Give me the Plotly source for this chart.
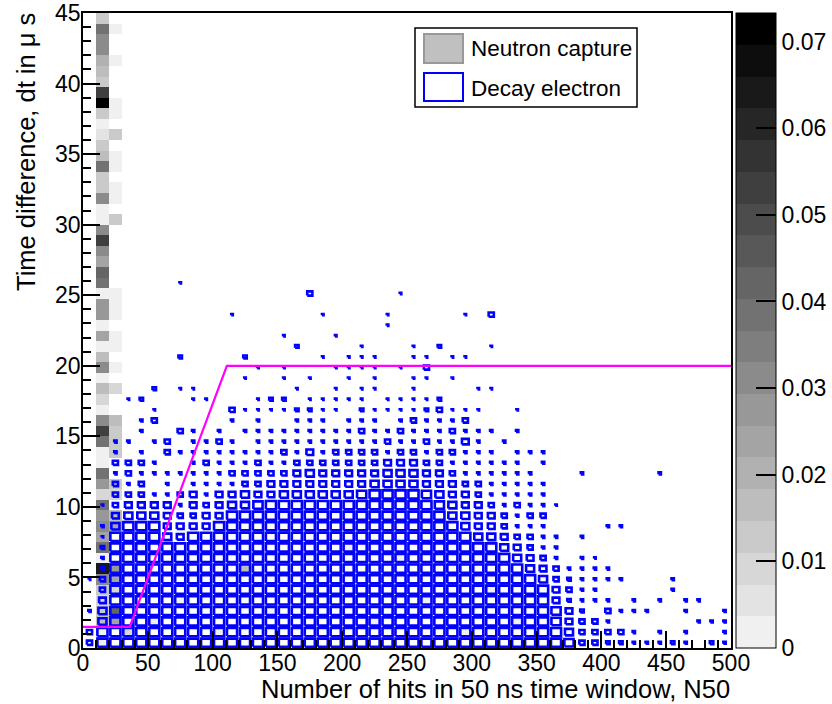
import plotly.graph_objects as go

# ---------------- data ----------------
x_edges_step = 10.0          # N50 bin width
y_edges_step = 0.75          # dt bin width (us)
n_xbins = 50
n_ybins = 60

# Decay electron: relative bin content level (0-9) per cell, rows from dt=0 upward
decay_rows = [
    "5999999999 9999999999 9999999999 9999999855 4433343043",
    "5999999999 9999999999 9999999999 9999999755 5530303003",
    "0799999999 9999999999 9999999999 9999998655 3000000333",
    "3799999999 9999999999 9999999999 9999998640 5333003003",
    "0699999999 9999999999 9999999999 9999996433 3030303300",
    "0599999999 9999999999 9999999999 9999996533 0000030000",
    "2599999999 9999999999 9999999999 9999975433 3300030000",
    "0499999999 9999999999 9999999999 9999765333 3000000000",
    "0399999999 9999999999 9999999999 9997653032 0000000000",
    "0499999999 9999999999 9999999999 9976533000 0000000000",
    "0299997699 9999999999 9999999999 7765533030 0000000000",
    "0379996666 9999999999 9999999997 6653330000 3300000000",
    "0067776556 6999999999 9999999977 6653550000 0000000000",
    "0256666365 6778999999 9999999876 6535332000 0000000000",
    "0055533563 6676677777 7899998766 5333330000 0000000000",
    "0053503033 3355666666 6677776665 5333330000 0000000000",
    "0035333333 3555556766 6667776653 3333300030 0000300000",
    "0055530035 3335335555 5556665533 3333030000 0000000000",
    "0030305333 3333353635 5553553553 3303330000 0000000000",
    "0033035033 5303333333 3335335336 3030000000 0000000000",
    "0000300530 3033333333 3533533353 3303000000 0000000000",
    "0000350000 0303003330 3330353335 0000000000 0000000000",
    "0000020000 0522224422 0422224522 2002000000 0000000000",
    "0002400022 0002440222 2202222400 0000000000 0000000000",
    "0000040220 0000002002 0220020000 2200000000 0000000000",
    "0000000000 0020020200 2020022020 0000000000 0000000000",
    "0000000000 0002020002 2220205000 0000000000 0000000000",
    "0000000400 0040000020 2220022022 0000000000 0000000000",
    "0000000000 0000004000 0200020400 0200000000 0000000000",
    "0000000000 0000020002 0000000000 0000000000 0000000000",
    "0000000000 0000000000 0002000000 0000000000 0000000000",
    "0000000000 0200000020 0002000002 0500000000 0000000000",
    "0000000000 0000000000 0000000000 0000000000 0000000000",
    "0000000000 0000000500 0000200000 0000000000 0000000000",
    "0000000200 0000000000 0000000000 0000000000 0000000000",
]
level_fraction = {1: 0.07, 2: 0.12, 3: 0.18, 4: 0.27, 5: 0.40,
                  6: 0.52, 7: 0.62, 8: 0.71, 9: 0.78}

# Neutron capture: normalised content, N50 bin 10-20 and 20-30, dt rows 0..59
neutron_col_10_20 = [
    0.002, 0.002, 0.0165, 0.0128, 0.009, 0.0128, 0.031, 0.064, 0.002, 0.0385,
    0.022, 0.031, 0.0275, 0.0385, 0.009, 0.0275, 0.0385, 0.002, 0.002, 0.0385,
    0.053, 0.031, 0.002, 0.009, 0.0165, 0.002, 0.031, 0.0165, 0.002, 0.022,
    0.002, 0.0275, 0.0275, 0.002, 0.0385, 0.042, 0.024, 0.031, 0.053, 0.031,
    0.002, 0.002, 0.031, 0.0128, 0.0128, 0.0385, 0.0165, 0.0128, 0.0055, 0.002,
    0.0128, 0.0715, 0.053, 0.0128, 0.0165, 0.020, 0.031, 0.031, 0.0385, 0.0128,
]
neutron_col_20_30 = [
    0, 0, 0.022, 0.042, 0, 0.009, 0.022, 0.0275, 0, 0,
    0, 0.022, 0.0165, 0, 0.009, 0.0128, 0, 0, 0.0128, 0.0128,
    0.0128, 0.0165, 0, 0, 0.009, 0, 0.002, 0, 0.002, 0.002,
    0, 0.002, 0.002, 0.002, 0, 0, 0, 0, 0, 0,
    0.0128, 0, 0.002, 0.002, 0, 0.002, 0.002, 0, 0.0128, 0,
    0.002, 0.002, 0, 0, 0, 0.002, 0, 0, 0.002, 0,
]
# other (x bin, y bin, content)
neutron_extra = [(3, 1, 0.009), (12, 7, 0.0165), (5, 2, 0.002), (7, 4, 0.002),
                 (10, 1, 0.002), (14, 3, 0.002), (17, 5, 0.002), (20, 9, 0.002),
                 (22, 2, 0.002), (24, 8, 0.002), (26, 4, 0.002), (29, 1, 0.002),
                 (31, 5, 0.002), (33, 2, 0.002)]
z_max = 0.0733
n_levels = 20
cbar_ticks = [0, 0.01, 0.02, 0.03, 0.04, 0.05, 0.06, 0.07]
cbar_ticktext = ["0", "0.01", "0.02", "0.03", "0.04", "0.05", "0.06", "0.07"]

# cut line (N50, dt)
cut_x = [0, 36, 111, 500]
cut_y = [1.5, 1.5, 20, 20]

x_title = "Number of hits in 50 ns time window, N50"
y_title = "Time difference, dt in \u03bc s"
legend_labels = ["Neutron capture", "Decay electron"]

# ---------------- build ----------------
FONT = "Liberation Sans, Arial, Helvetica, sans-serif"
W, H = 832, 704
L, R, T, B = 83, 0, 13, 56
PLOT_W = 648.0
PAPER_W = W - L - R
PAPER_H = H - T - B

xc = [x_edges_step * (i + 0.5) for i in range(n_xbins)]
yc = [y_edges_step * (j + 0.5) for j in range(n_ybins)]

z = [[None] * n_xbins for _ in range(n_ybins)]
for j in range(n_ybins):
    if neutron_col_10_20[j] > 0:
        z[j][1] = neutron_col_10_20[j]
    if neutron_col_20_30[j] > 0:
        z[j][2] = neutron_col_20_30[j]
for (i, j, v) in neutron_extra:
    z[j][i] = v

colorscale = []
for k in range(n_levels):
    g = round(240 - k * 240 / (n_levels - 1))
    c = f"rgb({g},{g},{g})"
    colorscale.append([k / n_levels, c])
    colorscale.append([(k + 1) / n_levels, c])

bx, by = [], []
for j, row in enumerate(decay_rows):
    row = row.replace(" ", "")
    assert len(row) == n_xbins
    for i, ch in enumerate(row):
        d = int(ch)
        if d == 0:
            continue
        f = level_fraction[d]
        hw = 0.5 * x_edges_step * f
        hh = 0.5 * y_edges_step * f
        x0, x1 = xc[i] - hw, xc[i] + hw
        y0, y1 = yc[j] - hh, yc[j] + hh
        bx += [x0, x1, x1, x0, x0, None]
        by += [y0, y0, y1, y1, y0, None]


def px_x(p):
    return (p - L) / PAPER_W


def px_y(p):
    return (H - B - p) / PAPER_H


fig = go.Figure()
fig.add_trace(go.Heatmap(
    x=xc, y=yc, z=z, zmin=0, zmax=z_max, colorscale=colorscale,
    hoverongaps=False, showscale=True,
    colorbar=dict(
        thickness=40, thicknessmode="pixels",
        len=1, lenmode="fraction", x=px_x(736), xanchor="left", xpad=0,
        y=0, yanchor="bottom", ypad=0,
        outlinewidth=1, outlinecolor="black",
        ticks="inside", ticklen=20, tickwidth=1.5, tickcolor="black",
        tickvals=cbar_ticks, ticktext=cbar_ticktext,
        tickfont=dict(family=FONT, size=23, color="black"),
    ),
))
fig.add_trace(go.Scatter(x=bx, y=by, mode="lines",
                         line=dict(color="#0000ff", width=2.6),
                         hoverinfo="skip", showlegend=False))
fig.add_trace(go.Scatter(x=cut_x, y=cut_y, mode="lines", line=dict(color="#ff00ff", width=2.2),
                         showlegend=False))

axis_common = dict(
    ticks="inside", ticklen=17, tickwidth=1.5, tickcolor="black",
    showline=True, mirror=True, linecolor="black", linewidth=1.5,
    showgrid=False, zeroline=False,
    tickfont=dict(family=FONT, size=23, color="black"),
)
fig.update_xaxes(range=[0, 500], tick0=0, dtick=50, domain=[0, PLOT_W / PAPER_W],
                 ticklabelstandoff=-6, automargin=False,
                 minor=dict(dtick=10, ticklen=8, ticks="inside", tickcolor="black", tickwidth=1.5),
                 **axis_common)
fig.update_yaxes(range=[0, 45], tick0=0, dtick=5, ticklabelstandoff=-4, automargin=False,
                 minor=dict(dtick=1, ticklen=8, ticks="inside", tickcolor="black", tickwidth=1.5),
                 **axis_common)

shapes = [
    dict(type="rect", xref="paper", yref="paper", x0=px_x(415), x1=px_x(637), y0=px_y(107), y1=px_y(28),
         line=dict(color="black", width=1.5), fillcolor="white", layer="above"),
    dict(type="rect", xref="paper", yref="paper", x0=px_x(424), x1=px_x(463), y0=px_y(63), y1=px_y(34),
         line=dict(color="#999999", width=2), fillcolor="#c0c0c0", layer="above"),
    dict(type="rect", xref="paper", yref="paper", x0=px_x(424), x1=px_x(463), y0=px_y(101), y1=px_y(73),
         line=dict(color="#0000ff", width=2), fillcolor="white", layer="above"),
]
annotations = [
    dict(text=legend_labels[0], xref="paper", yref="paper", x=px_x(469), y=px_y(48),
         xanchor="left", yanchor="middle", showarrow=False,
         font=dict(family=FONT, size=22.5, color="black")),
    dict(text=legend_labels[1], xref="paper", yref="paper", x=px_x(469), y=px_y(88),
         xanchor="left", yanchor="middle", showarrow=False,
         font=dict(family=FONT, size=22.5, color="black")),
    dict(text=x_title, xref="paper", yref="paper", x=px_x(732), y=px_y(689),
         xanchor="right", yanchor="middle", showarrow=False,
         font=dict(family=FONT, size=25.5, color="black")),
    dict(text=y_title, xref="paper", yref="paper", x=px_x(26), y=px_y(11),
         xanchor="center", yanchor="top", textangle=-90, showarrow=False,
         font=dict(family=FONT, size=25.5, color="black")),
]

fig.update_layout(
    width=W, height=H,
    margin=dict(l=L, r=R, t=T, b=B, pad=0, autoexpand=False),
    paper_bgcolor="white", plot_bgcolor="white",
    showlegend=False, shapes=shapes, annotations=annotations,
)
fig.write_html("out.html")
